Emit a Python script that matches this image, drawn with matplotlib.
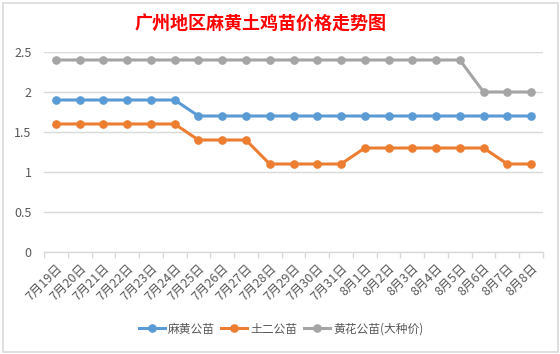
import matplotlib.pyplot as plt
from matplotlib.patches import Rectangle

plt.rcParams['font.family'] = ['Noto Sans CJK SC', 'DejaVu Sans']

# data
dates = ["7月19日", "7月20日", "7月21日", "7月22日", "7月23日", "7月24日", "7月25日",
         "7月26日", "7月27日", "7月28日", "7月29日", "7月30日", "7月31日",
         "8月1日", "8月2日", "8月3日", "8月4日", "8月5日", "8月6日", "8月7日", "8月8日"]
mahuang = [1.9, 1.9, 1.9, 1.9, 1.9, 1.9, 1.7, 1.7, 1.7, 1.7, 1.7, 1.7, 1.7,
           1.7, 1.7, 1.7, 1.7, 1.7, 1.7, 1.7, 1.7]
tuer = [1.6, 1.6, 1.6, 1.6, 1.6, 1.6, 1.4, 1.4, 1.4, 1.1, 1.1, 1.1, 1.1,
        1.3, 1.3, 1.3, 1.3, 1.3, 1.3, 1.1, 1.1]
huanghua = [2.4, 2.4, 2.4, 2.4, 2.4, 2.4, 2.4, 2.4, 2.4, 2.4, 2.4, 2.4, 2.4,
            2.4, 2.4, 2.4, 2.4, 2.4, 2.0, 2.0, 2.0]
yticks = [0, 0.5, 1, 1.5, 2, 2.5]
ytick_labels = ["0", "0.5", "1", "1.5", "2", "2.5"]

W, H = 560, 354
fig = plt.figure(figsize=(W / 100, H / 100), dpi=100)
fig.patch.set_facecolor("white")

# chart border
fig.patches.append(Rectangle((2.5 / W, 2.5 / H), 555 / W, 349 / H, transform=fig.transFigure,
                             fill=False, edgecolor="#d9d9d9", linewidth=1.2))

ax = fig.add_axes([44 / W, 1 - 252 / H, (543 - 44) / W, 200 / H])
x = list(range(len(dates)))

#series
ax.plot(x, mahuang, color="#5B9BD5", lw=2.2, marker="o", ms=5.2, label="麻黄公苗")
ax.plot(x, tuer, color="#ED7D31", lw=2.2, marker="o", ms=5.2, label="土二公苗")
ax.plot(x, huanghua, color="#A5A5A5", lw=2.2, marker="o", ms=5.2, label="黄花公苗(大种价)")

ax.set_xlim(-0.5, len(dates) - 0.5)
ax.set_ylim(0, 2.5)
ax.set_yticks(yticks)
ax.set_yticklabels(ytick_labels)
ax.yaxis.grid(True, color="#d9d9d9", lw=1)
ax.set_axisbelow(True)
ax.tick_params(axis="y", length=0, pad=9, labelsize=9, labelcolor="#595959")

# category ticks between points, labels at points
ax.set_xticks([i - 0.5 for i in range(len(dates) + 1)])
ax.set_xticklabels([])
ax.set_xticks(x, minor=True)
ax.set_xticklabels(dates, minor=True, rotation=45, ha="right", va="top",
                   rotation_mode="anchor", fontsize=9, color="#595959")
ax.tick_params(axis="x", which="major", length=4, color="#d9d9d9", width=1)
ax.tick_params(axis="x", which="minor", length=0, pad=7)

for s in ["top", "right", "left"]:
    ax.spines[s].set_visible(False)
ax.spines["bottom"].set_color("#d9d9d9")
ax.spines["bottom"].set_linewidth(1)

fig.text(261 / W, 1 - 23 / H, "广州地区麻黄土鸡苗价格走势图", color="red", fontsize=13,
         fontweight="bold", ha="center", va="center")

fig.legend(loc="center", bbox_to_anchor=(281 / W, 1 - 329 / H), ncol=3, frameon=False,
           fontsize=8.5, labelcolor="#595959", handlelength=2.2, handletextpad=0.3,
           columnspacing=0.5)

fig.savefig("out.png", dpi=100)
